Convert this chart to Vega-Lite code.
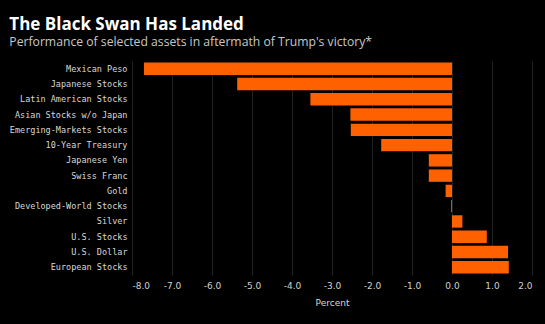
{
  "$schema": "https://vega.github.io/schema/vega-lite/v6.json",
  "background": "#000000",
  "autosize": "none",
  "padding": {"left": 132, "top": 61, "right": 13, "bottom": 50},
  "width": 400,
  "height": 214,
  "title": {
    "text": "The Black Swan Has Landed",
    "subtitle": "Performance of selected assets in aftermath of Trump's victory*",
    "anchor": "start",
    "frame": "bounds",
    "font": "Open Sans",
    "fontSize": 17,
    "fontWeight": "bold",
    "color": "#ffffff",
    "subtitleFont": "Open Sans",
    "subtitleFontSize": 12.2,
    "subtitleColor": "#c8c8c8",
    "subtitlePadding": 2,
    "offset": 12
  },
  "data": {
    "values": [
      {"asset": "Mexican Peso", "pct": -7.7},
      {"asset": "Japanese Stocks", "pct": -5.37},
      {"asset": "Latin American Stocks", "pct": -3.54},
      {"asset": "Asian Stocks w/o Japan", "pct": -2.54},
      {"asset": "Emerging-Markets Stocks", "pct": -2.53},
      {"asset": "10-Year Treasury", "pct": -1.77},
      {"asset": "Japanese Yen", "pct": -0.58},
      {"asset": "Swiss Franc", "pct": -0.58},
      {"asset": "Gold", "pct": -0.16},
      {"asset": "Developed-World Stocks", "pct": -0.02},
      {"asset": "Silver", "pct": 0.26},
      {"asset": "U.S. Stocks", "pct": 0.87},
      {"asset": "U.S. Dollar", "pct": 1.4},
      {"asset": "European Stocks", "pct": 1.42}
    ]
  },
  "mark": {"type": "bar", "color": "#ff6100"},
  "encoding": {
    "y": {
      "field": "asset",
      "type": "nominal",
      "sort": null,
      "scale": {"paddingInner": 0.19, "paddingOuter": 0.1},
      "axis": {
        "title": null,
        "ticks": false,
        "domain": false,
        "grid": false,
        "labelFont": "DejaVu Sans Mono",
        "labelFontSize": 8.5,
        "labelColor": "#d8d8d8",
        "labelPadding": 5
      }
    },
    "x": {
      "field": "pct",
      "type": "quantitative",
      "scale": {"domain": [-8, 2], "nice": false, "zero": false},
      "axis": {
        "title": "Percent",
        "titleFont": "DejaVu Sans",
        "titleFontSize": 9,
        "titleFontWeight": "normal",
        "titleColor": "#d8d8d8",
        "titlePadding": 8,
        "values": [-8, -7, -6, -5, -4, -3, -2, -1, 0, 1, 2],
        "format": ".1f",
        "labelExpr": "replace(datum.label, '\u2212', '-')",
        "labelFont": "DejaVu Sans",
        "labelFontSize": 9,
        "labelColor": "#d0d0d0",
        "labelPadding": 6,
        "ticks": false,
        "domain": false,
        "grid": true,
        "gridColor": "#222222",
        "gridWidth": 1
      }
    }
  },
  "config": {"view": {"stroke": null}}
}
